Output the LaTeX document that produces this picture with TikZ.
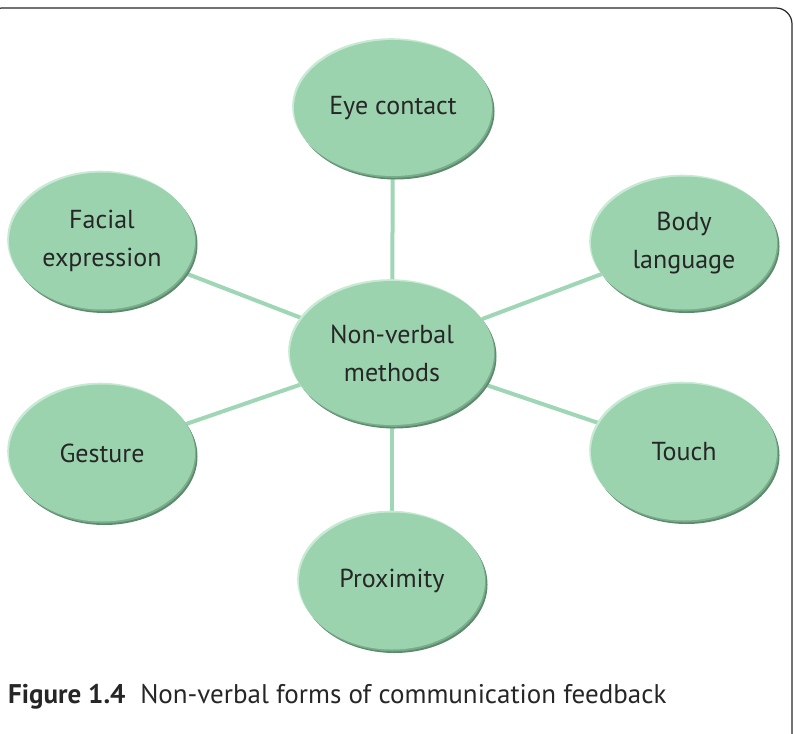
\documentclass[tikz,border=0pt]{standalone}
\usepackage{fontspec}
\setmainfont{PT Sans}
\usetikzlibrary{shapes.geometric}
\usetikzlibrary{shadows}
\usetikzlibrary{backgrounds}

\definecolor{bubblegreen}{HTML}{9CD3AF}
\definecolor{rimdark}{HTML}{5C8A6C}
\definecolor{rimmid}{HTML}{7AAC8B}
\definecolor{rimlight}{HTML}{C8EAD4}
\definecolor{linkgreen}{HTML}{9FD6B5}
\definecolor{inktext}{HTML}{262626}

\begin{document}
\begin{tikzpicture}
    [x=1pt,y=-1pt,
    bubble/.style={ellipse,fill=bubblegreen,inner sep=0pt,
      minimum width=186pt,minimum height=137pt,align=center,
      text=inktext,font=\fontsize{26}{38}\selectfont,
      general shadow={fill=rimdark,shadow xshift=2.5pt,shadow yshift=-3.5pt},
      general shadow={fill=rimmid,shadow xshift=1.2pt,shadow yshift=-1.8pt},
      general shadow={fill=rimlight,shadow xshift=-1.8pt,shadow yshift=1.8pt}},
    link/.style={draw=linkgreen,line width=4pt}]

    \useasboundingbox (0,0) rectangle (794,733);

    % frame
    \draw[line width=1.2pt,draw=inktext,rounded corners=16pt] (-14,8) rectangle (792,752);

    \node[bubble,minimum width=204pt,minimum height=144pt] (methods) at (392,353) {Non-verbal\\methods};

    \node[bubble,minimum width=198pt,minimum height=136pt] (eye)     at (393,108) {Eye contact};
    \node[bubble] (facial)    at (102,241) {Facial\\expression};
    \node[bubble,minimum height=133pt] (body) at (684,243) {Body\\language};
    \node[bubble] (gesture)   at (102,453) {Gesture};
    \node[bubble] (touch)     at (684,452) {Touch};
    \node[bubble] (proximity) at (392,581) {Proximity};

    \begin{scope}[on background layer]
      \foreach \outer in {eye,facial,body,gesture,touch,proximity}
        \draw[link] (methods) -- (\outer);
    \end{scope}

    \node[anchor=base west,inner sep=0pt,text=inktext,
      font=\fontsize{27}{30}\selectfont] (caption) at (8,703)
      {\textbf{Figure 1.4}\hspace{0.55em}Non-verbal forms of communication feedback};

  \end{tikzpicture}
\end{document}
